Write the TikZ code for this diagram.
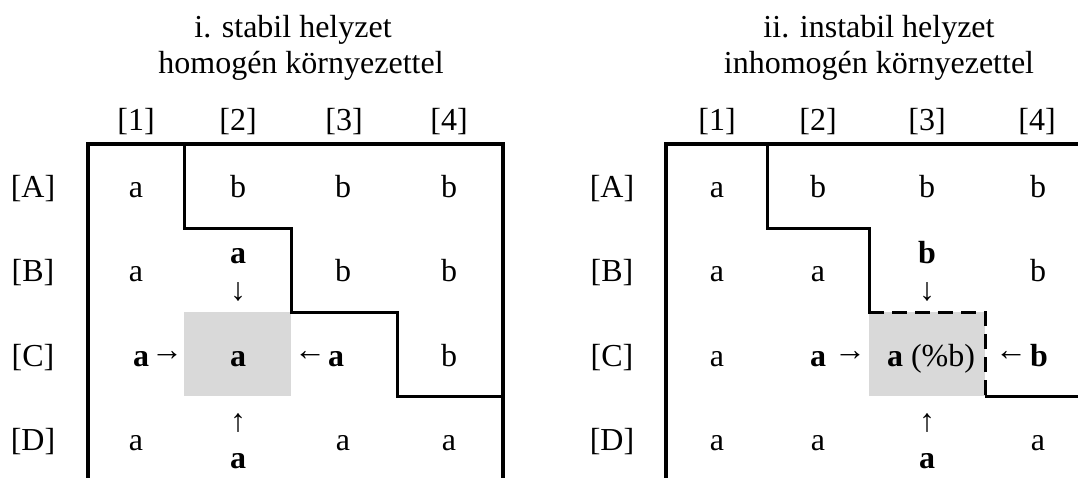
\documentclass[tikz,border=0pt]{standalone}
\usepackage{fontspec}
\setmainfont{Liberation Serif}
\begin{document}
\begin{tikzpicture}[x=1pt,y=-1pt,
  txt/.style={font=\fontsize{32}{36}\selectfont, inner sep=0pt, anchor=base},
  bld/.style={txt, font=\fontsize{32}{36}\selectfont\bfseries},
  arw/.style={font=\fontsize{32}{36}\selectfont, inner sep=0pt, anchor=center},
  frame/.style={line width=4.4pt},
  border/.style={line width=3pt},
  dborder/.style={line width=3pt, dash pattern=on 15pt off 8pt},
  focus/.style={fill=black!15, draw=none}]
\useasboundingbox (0,0) rectangle (1078,477);

% ---------- panel i ----------
\fill[focus] (184,312) rectangle (291,396);
\draw[frame] (88,480) -- (88,144) -- (503,144) -- (503,480);
\draw[border] (184,144) -- (184,228) -- (291,228) -- (291,312) -- (397,312) -- (397,396) -- (503,396);

\node[txt] (t1a) at (293,37) {i. stabil helyzet};
\node[txt] (t1b) at (301,73) {homogén környezettel};

\node[txt] (h11) at (136,130) {[1]};
\node[txt] (h12) at (238,130) {[2]};
\node[txt] (h13) at (344,130) {[3]};
\node[txt] (h14) at (449,130) {[4]};

\node[txt] (r1A) at (33,197) {[A]};
\node[txt] (r1B) at (33,281) {[B]};
\node[txt] (r1C) at (33,366) {[C]};
\node[txt] (r1D) at (33,450) {[D]};

\node[txt] (c1A1) at (136,197) {a};
\node[txt] (c1A2) at (238,197) {b};
\node[txt] (c1A3) at (343,197) {b};
\node[txt] (c1A4) at (449,197) {b};

\node[txt] (c1B1) at (136,281) {a};
\node[bld] (c1B2) at (238,263) {a};
\node[arw] (d1B2) at (238,292) {↓};
\node[txt] (c1B3) at (343,281) {b};
\node[txt] (c1B4) at (449,281) {b};

\node[bld] (c1C1) at (141,366) {a};
\node[arw] (d1C1) at (167,356) {→};
\node[bld] (c1C2) at (238,366) {a};
\node[arw] (d1C3) at (310,356) {←};
\node[bld] (c1C3) at (336,366) {a};
\node[txt] (c1C4) at (449,366) {b};

\node[txt] (c1D1) at (136,450) {a};
\node[arw] (d1D2) at (238,423) {↑};
\node[bld] (c1D2) at (238,468) {a};
\node[txt] (c1D3) at (343,450) {a};
\node[txt] (c1D4) at (449,450) {a};

% ---------- panel ii ----------
\fill[focus] (869,312) rectangle (985,396);
\draw[frame] (666,480) -- (666,144) -- (1082,144);
\draw[border] (767,144) -- (767,228) -- (869,228) -- (869,313.5);
\draw[dborder] (869,312) -- (985,312) -- (985,396);
\draw[border] (985,396) -- (1082,396);

\node[txt] (t2a) at (879,37) {ii. instabil helyzet};
\node[txt] (t2b) at (879,73) {inhomogén környezettel};

\node[txt] (h21) at (717,130) {[1]};
\node[txt] (h22) at (818,130) {[2]};
\node[txt] (h23) at (927,130) {[3]};
\node[txt] (h24) at (1037,130) {[4]};

\node[txt] (r2A) at (612,197) {[A]};
\node[txt] (r2B) at (612,281) {[B]};
\node[txt] (r2C) at (612,366) {[C]};
\node[txt] (r2D) at (612,450) {[D]};

\node[txt] (c2A1) at (717,197) {a};
\node[txt] (c2A2) at (818,197) {b};
\node[txt] (c2A3) at (927,197) {b};
\node[txt] (c2A4) at (1038,197) {b};

\node[txt] (c2B1) at (717,281) {a};
\node[txt] (c2B2) at (818,281) {a};
\node[bld] (c2B3) at (927,263) {b};
\node[arw] (d2B3) at (927,292) {↓};
\node[txt] (c2B4) at (1038,281) {b};

\node[txt] (c2C1) at (717,366) {a};
\node[bld] (c2C2) at (818,366) {a};
\node[arw] (d2C2) at (850,356) {→};
\node[txt] (c2C3) at (931,366) {\textbf{a} (\%b)};
\node[arw] (d2C4) at (1011,356) {←};
\node[bld] (c2C4) at (1039,366) {b};

\node[txt] (c2D1) at (717,450) {a};
\node[txt] (c2D2) at (818,450) {a};
\node[arw] (d2D3) at (927,423) {↑};
\node[bld] (c2D3) at (927,468) {a};
\node[txt] (c2D4) at (1038,450) {a};
\end{tikzpicture}
\end{document}
